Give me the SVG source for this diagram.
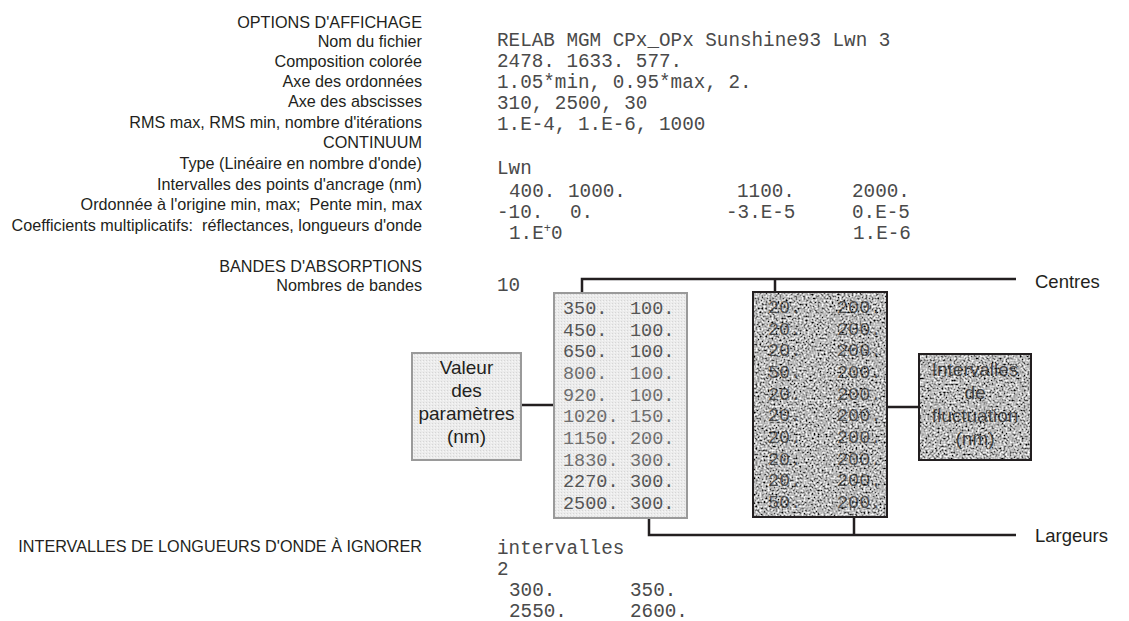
<svg xmlns="http://www.w3.org/2000/svg" width="1129" height="621" viewBox="0 0 1129 621">
<style>
.lab{font-family:"Liberation Sans",Arial,sans-serif;font-size:16.2px;fill:#231f20;text-anchor:end}
.mono{font-family:"Liberation Mono","Courier New",monospace;font-size:19.3px;fill:#4a4a4a}
.bx{font-family:"Liberation Mono","Courier New",monospace;font-size:18.5px;fill:#555}
.bxl{fill:#6e6e6e}
.dbx{font-family:"Liberation Mono","Courier New",monospace;font-size:18.5px;fill:#2a2a2a;fill-opacity:0.75}
.big{font-family:"Liberation Sans",Arial,sans-serif;font-size:18.5px;fill:#231f20}
.ctr{font-family:"Liberation Sans",Arial,sans-serif;font-size:19px;fill:#231f20;text-anchor:middle}
.ctrd{font-family:"Liberation Sans",Arial,sans-serif;font-size:19px;fill:#222;fill-opacity:0.8;text-anchor:middle}
.ln{stroke:#231f20;stroke-width:2.5;fill:none}
.lightbox{fill:url(#dots);stroke:#9a9a9a;stroke-width:2}
.darkbox{fill:none;stroke:#231f20;stroke-width:2}
</style>
<defs>
<pattern id="dots" width="3" height="3" patternUnits="userSpaceOnUse">
<rect width="3" height="3" fill="#ececec"/>
<rect width="1" height="1" fill="#d6d6d6"/>
<rect x="2" y="1" width="1" height="1" fill="#f7f7f7"/>
</pattern>
<filter id="noise" x="0" y="0" width="1" height="1">
<feTurbulence type="fractalNoise" baseFrequency="0.5" numOctaves="2" seed="7" result="t"/>
<feColorMatrix in="t" type="matrix" values="2.0 0 0 0 -0.52  2.0 0 0 0 -0.52  2.0 0 0 0 -0.52  0 0 0 0 1"/>
</filter>
</defs>

<g id="labels">
<text class="lab" x="422" y="28">OPTIONS D'AFFICHAGE</text>
<text class="lab" x="422" y="47">Nom du fichier</text>
<text class="lab" x="422" y="67">Composition colorée</text>
<text class="lab" x="422" y="87">Axe des ordonnées</text>
<text class="lab" x="422" y="107">Axe des abscisses</text>
<text class="lab" x="422" y="128">RMS max, RMS min, nombre d'itérations</text>
<text class="lab" x="422" y="148">CONTINUUM</text>
<text class="lab" x="422" y="169">Type (Linéaire en nombre d'onde)</text>
<text class="lab" x="422" y="190">Intervalles des points d'ancrage (nm)</text>
<text class="lab" x="422" y="210" xml:space="preserve">Ordonnée à l'origine min, max;  Pente min, max</text>
<text class="lab" x="422" y="231" xml:space="preserve">Coefficients multiplicatifs:  réflectances, longueurs d'onde</text>
<text class="lab" x="422" y="272">BANDES D'ABSORPTIONS</text>
<text class="lab" x="422" y="291">Nombres de bandes</text>
<text class="lab" x="422" y="552">INTERVALLES DE LONGUEURS D'ONDE À IGNORER</text>
</g>

<g id="values">
<text class="mono" x="497" y="46">RELAB MGM CPx_OPx Sunshine93 Lwn 3</text>
<text class="mono" x="497" y="67">2478. 1633. 577.</text>
<text class="mono" x="497" y="88">1.05*min, 0.95*max, 2.</text>
<text class="mono" x="497" y="109">310, 2500, 30</text>
<text class="mono" x="497" y="130">1.E-4, 1.E-6, 1000</text>
<text class="mono" x="497" y="174">Lwn</text>
<text class="mono" x="509" y="197">400.</text>
<text class="mono" x="568" y="197">1000.</text>
<text class="mono" x="737" y="197">1100.</text>
<text class="mono" x="852" y="197">2000.</text>
<text class="mono" x="497" y="218">-10.</text>
<text class="mono" x="570" y="218">0.</text>
<text class="mono" x="726" y="218">-3.E-5</text>
<text class="mono" x="852" y="218">0.E-5</text>
<text class="mono" x="509" y="239">1.E<tspan font-size="12" dy="-7">+</tspan><tspan dy="7">0</tspan></text>
<text class="mono" x="853" y="239">1.E-6</text>
<text class="mono" x="497" y="291">10</text>
<text class="mono" x="497" y="554">intervalles</text>
<text class="mono" x="497" y="575">2</text>
<text class="mono" x="509" y="596">300.</text>
<text class="mono" x="630" y="596">350.</text>
<text class="mono" x="509" y="617">2550.</text>
<text class="mono" x="630" y="617">2600.</text>
</g>

<g id="connectors">
<polyline class="ln" points="582,293 582,279 1016,279"/>
<line class="ln" x1="775" y1="279" x2="775" y2="292"/>
<polyline class="ln" points="649,518 649,535 1016,535"/>
<line class="ln" x1="854" y1="517" x2="854" y2="535"/>
<line class="ln" x1="521" y1="405" x2="554" y2="405"/>
<line class="ln" x1="887" y1="407" x2="919" y2="407"/>
</g>

<g id="label-centres"><text class="big" x="1035" y="288">Centres</text></g>
<g id="label-largeurs"><text class="big" x="1035" y="542">Largeurs</text></g>

<g id="node-valeurs">
<rect class="lightbox" x="554" y="293" width="133" height="225"/>
<g class="bx">
<text x="563" y="314">350.</text><text x="630" y="314">100.</text>
<text x="563" y="336">450.</text><text x="630" y="336">100.</text>
<text x="563" y="357">650.</text><text x="630" y="357">100.</text>
<text class="bxl" x="563" y="379">800.</text><text class="bxl" x="630" y="379">100.</text>
<text class="bxl" x="563" y="401">920.</text><text class="bxl" x="630" y="401">100.</text>
<text class="bxl" x="563" y="422">1020.</text><text class="bxl" x="630" y="422">150.</text>
<text class="bxl" x="563" y="444">1150.</text><text class="bxl" x="630" y="444">200.</text>
<text class="bxl" x="563" y="466">1830.</text><text class="bxl" x="630" y="466">300.</text>
<text x="563" y="487">2270.</text><text x="630" y="487">300.</text>
<text x="563" y="509">2500.</text><text x="630" y="509">300.</text>
</g>
</g>

<g id="node-fluctuations">
<rect x="753" y="292" width="134" height="225" fill="#888" filter="url(#noise)"/>
<rect class="darkbox" x="753" y="292" width="134" height="225"/>
<g class="dbx">
<text x="768" y="313">20.</text><text x="837" y="313">200.</text>
<text x="768" y="335">20.</text><text x="837" y="335">200.</text>
<text x="768" y="356">20.</text><text x="837" y="356">200.</text>
<text x="768" y="378">50.</text><text x="837" y="378">200.</text>
<text x="768" y="400">20.</text><text x="837" y="400">200.</text>
<text x="768" y="421">20.</text><text x="837" y="421">200.</text>
<text x="768" y="443">20.</text><text x="837" y="443">200.</text>
<text x="768" y="465">20.</text><text x="837" y="465">200.</text>
<text x="768" y="486">20.</text><text x="837" y="486">200.</text>
<text x="768" y="508">50.</text><text x="837" y="508">200.</text>
</g>
</g>

<g id="node-valeur-label">
<rect class="lightbox" x="412" y="353" width="109" height="107"/>
<text class="ctr" x="466.5" y="374">Valeur</text>
<text class="ctr" x="466.5" y="397">des</text>
<text class="ctr" x="466.5" y="420">paramètres</text>
<text class="ctr" x="466.5" y="443">(nm)</text>
</g>

<g id="node-intervalles-label">
<rect x="919" y="354" width="112" height="106" fill="#888" filter="url(#noise)"/>
<rect class="darkbox" x="919" y="354" width="112" height="106"/>
<text class="ctrd" x="975" y="376">Intervalles</text>
<text class="ctrd" x="975" y="399">de</text>
<text class="ctrd" x="975" y="422">fluctuation</text>
<text class="ctrd" x="975" y="445">(nm)</text>
</g>
</svg>
